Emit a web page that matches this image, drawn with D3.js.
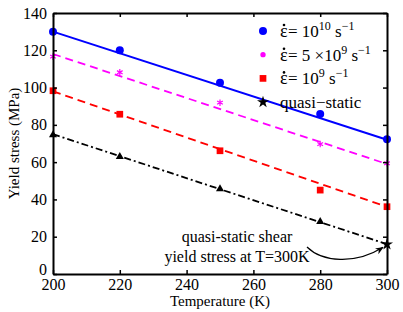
<!DOCTYPE html>
<html>
<head>
<meta charset="utf-8">
<script src="https://cdn.jsdelivr.net/npm/d3@7"></script>
<style>
  body { margin: 0; background: #fff; }
  svg text { font-family: "Liberation Serif", "Times New Roman", serif !important; }
</style>
</head>
<body>
<svg width="403" height="312"></svg>
<script>
// data
const temps = [200, 220, 250, 280, 300];
const rate1e10 = [130, 120, 102.6, 85.8, 72.3];
const rate5e9 = [116.6, 108.2, 91.9, 69.7, 59.4];
const rate1e9 = [98.3, 85.7, 66.1, 45, 36.1];
const quasiStatic = [74.6, 62.9, 45.6, 28.1, 15.9];

// fitted lines: value at 200 K and 300 K
const fit1e10 = [130, 72];
const fit5e9 = [118, 59];
const fit1e9 = [98, 36];
const fitQuasi = [75, 16];

const xTicks = [200, 220, 240, 260, 280, 300];
const yTicks = [0, 20, 40, 60, 80, 100, 120, 140];

const svg = d3.select('svg');
const margin = { top: 13, right: 16, bottom: 38, left: 53 };
const width = +svg.attr('width');
const height = +svg.attr('height');

const xScale = d3.scaleLinear().domain([200, 300]).range([margin.left, width - margin.right]);
const yScale = d3.scaleLinear().domain([0, 140]).range([height - margin.bottom, margin.top]);

const series = [
  { name: '1e10', values: rate1e10, fit: fit1e10, color: '#0000ff', dash: null, marker: 'circle' },
  { name: '5e9', values: rate5e9, fit: fit5e9, color: '#ff00ff', dash: '8,5', marker: 'star' },
  { name: '1e9', values: rate1e9, fit: fit1e9, color: '#ff0000', dash: '8,5', marker: 'square' },
  { name: 'quasi', values: quasiStatic, fit: fitQuasi, color: '#000000', dash: '7,3,2,3', marker: 'triangle' }
];

const markerPath = (type) => {
  if (type === 'circle') return d3.symbol().type(d3.symbolCircle).size(50)();
  if (type === 'square') return d3.symbol().type(d3.symbolSquare).size(45)();
  if (type === 'triangle') return d3.symbol().type(d3.symbolTriangle).size(28)();
  return d3.symbol().type(d3.symbolAsterisk).size(30)();
};

// fit lines
const lineGen = d3.line().x(d => xScale(d[0])).y(d => yScale(d[1]));
svg.append('g').selectAll('path')
  .data(series)
  .join('path')
  .attr('d', d => lineGen([[200, d.fit[0]], [300, d.fit[1]]]))
  .attr('fill', 'none')
  .attr('stroke', d => d.color)
  .attr('stroke-width', d => d.name === '1e10' ? 2 : 1.8)
  .attr('stroke-dasharray', d => d.dash);

// markers
series.forEach(s => {
  svg.append('g').selectAll('path')
    .data(temps.map((t, i) => [t, s.values[i], i]))
    .join('path')
    .attr('transform', d => `translate(${xScale(d[0])},${yScale(d[1])})`)
    .attr('d', d => (s.name === 'quasi' && d[2] === temps.length - 1) ? d3.symbol().type(d3.symbolStar).size(45)() : markerPath(s.marker))
    .attr('fill', s.color)
    .attr('stroke', s.marker === 'star' ? s.color : 'none')
    .attr('stroke-width', 1.2);
});

// axes box with inward ticks
const xAxisB = d3.axisBottom(xScale).tickValues(xTicks).tickSize(-4).tickPadding(5).tickSizeOuter(0);
const xAxisT = d3.axisTop(xScale).tickValues(xTicks).tickSize(-4).tickFormat('').tickSizeOuter(0);
const yAxisL = d3.axisLeft(yScale).tickValues(yTicks).tickSize(-4).tickPadding(6).tickSizeOuter(0);
const yAxisR = d3.axisRight(yScale).tickValues(yTicks).tickSize(-4).tickFormat('').tickSizeOuter(0);

const axes = [
  svg.append('g').attr('transform', `translate(0,${yScale(0)})`).call(xAxisB),
  svg.append('g').attr('transform', `translate(0,${yScale(140)})`).call(xAxisT),
  svg.append('g').attr('transform', `translate(${xScale(200)},0)`).call(yAxisL),
  svg.append('g').attr('transform', `translate(${xScale(300)},0)`).call(yAxisR)
];
axes.forEach(a => {
  a.attr('font-size', 16);
  a.select('.domain').attr('stroke', '#000').attr('stroke-width', 2);
  a.selectAll('.tick line').attr('stroke', '#000').attr('stroke-width', 1.5);
  a.selectAll('.tick text').attr('fill', '#000');
});
// lift the "0" a little so it clears the "200" below it
axes[2].selectAll('.tick text').filter(d => d === 0).attr('dy', '0.05em');

// axis labels
svg.append('text')
  .attr('x', (xScale(200) + xScale(300)) / 2)
  .attr('y', 306)
  .attr('text-anchor', 'middle')
  .attr('font-size', 15)
  .text('Temperature (K)');

svg.append('text')
  .attr('transform', `translate(19,${(yScale(0) + yScale(140)) / 2}) rotate(-90)`)
  .attr('text-anchor', 'middle')
  .attr('font-size', 15)
  .text('Yield stress (MPa)');

// legend
const legendRows = [
  { marker: 'circle', color: '#0000ff', parts: [[' = 10', null], ['10', 'sup'], [' s', null], ['−1', 'sup']] },
  { marker: 'star', color: '#ff00ff', parts: [[' = 5 ×10', null], ['9', 'sup'], [' s', null], ['−1', 'sup']] },
  { marker: 'square', color: '#ff0000', parts: [[' = 10', null], ['9', 'sup'], [' s', null], ['−1', 'sup']] },
  { marker: 'blackstar', color: '#000000', parts: [['quasi−static', null]] }
];

const legend = svg.append('g');
legendRows.forEach((row, i) => {
  const y = 31 + i * 23.7;
  let d;
  if (row.marker === 'blackstar') d = d3.symbol().type(d3.symbolStar).size(45)();
  else if (row.marker === 'star') d = d3.symbol().type(d3.symbolCircle).size(22)();
  else d = markerPath(row.marker);
  legend.append('path')
    .attr('transform', `translate(263,${y})`)
    .attr('d', d)
    .attr('fill', row.color);

  let x0 = 280;
  if (row.marker !== 'blackstar') {
    // epsilon with a dot above
    legend.append('text').attr('x', 280).attr('y', y + 6).attr('font-size', 18).text('ε');
    legend.append('circle').attr('cx', 284).attr('cy', y - 6).attr('r', 1.3).attr('fill', '#000');
    x0 = 288;
  }
  const t = legend.append('text')
    .attr('x', x0)
    .attr('y', y + 6)
    .attr('font-size', 17);
  let prevSup = false;
  row.parts.forEach(([str, kind]) => {
    const span = t.append('tspan').text(str);
    const isSup = kind === 'sup';
    if (isSup) span.attr('dy', prevSup ? 0 : -7).attr('font-size', 12);
    else span.attr('dy', prevSup ? 7 : 0);
    prevSup = isSup;
  });
});

// annotation
svg.append('text')
  .attr('x', 237)
  .attr('y', 242)
  .attr('text-anchor', 'middle')
  .attr('font-size', 16)
  .text('quasi-static shear');
svg.append('text')
  .attr('x', 237)
  .attr('y', 262)
  .attr('text-anchor', 'middle')
  .attr('font-size', 16)
  .text('yield stress at T=300K');

svg.append('defs').append('marker')
  .attr('id', 'arrow')
  .attr('viewBox', '0 0 10 10')
  .attr('refX', 9).attr('refY', 5)
  .attr('markerWidth', 7).attr('markerHeight', 7)
  .attr('orient', 'auto')
  .append('path')
  .attr('d', 'M0,1 L10,5 L0,9 L3,5 Z')
  .attr('fill', '#000');

const x300 = xScale(300);
const yStar = yScale(quasiStatic[quasiStatic.length - 1]);
svg.append('path')
  .attr('d', `M307,247 C322,262 355,265 ${x300 - 4},${yStar + 3}`)
  .attr('fill', 'none')
  .attr('stroke', '#000')
  .attr('stroke-width', 1.2)
  .attr('marker-end', 'url(#arrow)');
</script>
</body>
</html>
